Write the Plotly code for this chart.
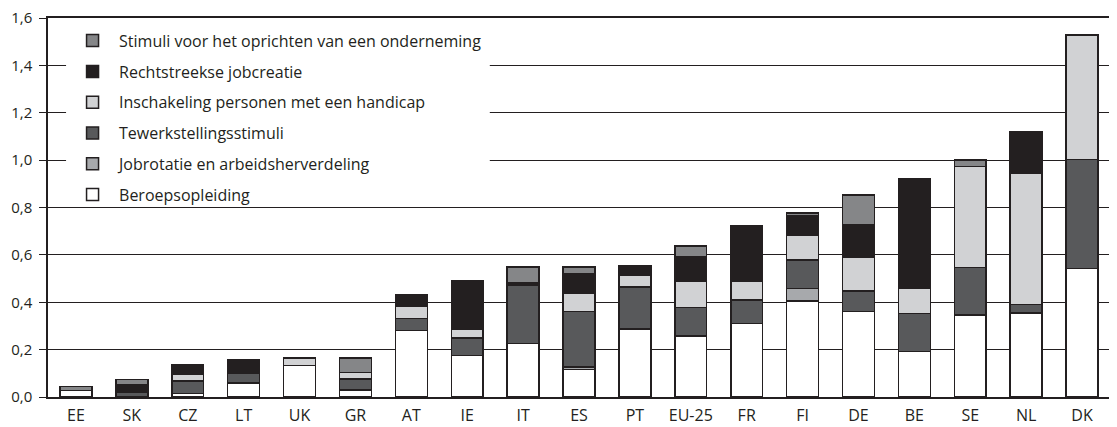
import plotly.graph_objects as go

landen = ["EE", "SK", "CZ", "LT", "UK", "GR", "AT", "IE", "IT", "ES",
          "PT", "EU-25", "FR", "FI", "DE", "BE", "SE", "NL", "DK"]

# uitgaven in % van het bbp, per categorie (van onder naar boven gestapeld)
beroepsopleiding = [0.028, None, 0.014, 0.059, 0.133, 0.030, 0.280, 0.175, 0.226, 0.116,
                    0.287, 0.257, 0.311, 0.406, 0.361, 0.192, 0.347, 0.354, 0.542]
jobrotatie = [None, None, None, None, None, None, None, None, None, 0.010,
              None, None, None, 0.052, None, None, None, None, None]
tewerkstelling = [None, 0.020, 0.053, 0.041, None, 0.047, 0.051, 0.075, 0.245, 0.235,
                  0.177, 0.120, 0.098, 0.120, 0.087, 0.161, 0.199, 0.036, 0.461]
handicap = [None, None, 0.027, None, 0.031, 0.027, 0.051, 0.037, None, 0.075,
            0.048, 0.112, 0.081, 0.104, 0.143, 0.105, 0.427, 0.554, 0.526]
jobcreatie = [None, 0.032, 0.035, 0.057, None, None, 0.049, 0.202, 0.013, 0.084,
              0.043, 0.105, 0.235, 0.084, 0.137, 0.462, None, 0.176, None]
startstimuli = [0.017, 0.022, 0.007, None, None, 0.060, None, None, 0.064, 0.028,
                None, 0.043, None, 0.011, 0.125, None, 0.027, None, None]

reeksen = [
    ("Beroepsopleiding", beroepsopleiding, "#ffffff"),
    ("Jobrotatie en arbeidsherverdeling", jobrotatie, "#a7a9ac"),
    ("Tewerkstellingsstimuli", tewerkstelling, "#58595b"),
    ("Inschakeling personen met een handicap", handicap, "#d1d2d4"),
    ("Rechtstreekse jobcreatie", jobcreatie, "#231f20"),
    ("Stimuli voor het oprichten van een onderneming", startstimuli, "#858688"),
]

fig = go.Figure()
for i, (naam, waarden, kleur) in enumerate(reeksen):
    fig.add_trace(go.Bar(
        x=landen,
        y=waarden,
        name=naam,
        legendgroup=naam,
        legendrank=len(reeksen) - i,
        marker=dict(color=kleur, line=dict(color="#231f20", width=1.5)),
    ))

# wit vlak achter de legende, zodat de rasterlijnen daar wegvallen
fig.add_shape(
    type="rect", xref="paper", yref="paper",
    x0=0.017, x1=0.416, y0=0.517, y1=0.99,
    fillcolor="white", line_width=0, layer="above",
)

# de pagina heeft 8px body-marge, daarom zijn de marges kleiner
fig.update_layout(
    barmode="stack",
    bargap=0.43,
    width=1117,
    height=427,
    margin=dict(l=40, r=15, t=10, b=38, autoexpand=False),
    paper_bgcolor="white",
    plot_bgcolor="white",
    separators=",.",
    font=dict(family="Open Sans", size=16, color="#231f20"),
    legend=dict(
        x=0.017, y=0.985, xanchor="left", yanchor="top",
        bgcolor="rgba(0,0,0,0)",
        traceorder="grouped",
        tracegroupgap=7,
        itemwidth=43,
        font=dict(size=16),
    ),
)
fig.update_yaxes(
    range=[0, 1.6],
    dtick=0.2,
    tickformat=".1f",
    ticklabeloverflow="allow",
    tickfont=dict(size=15),
    ticklabelstandoff=4,
    showgrid=True,
    gridcolor="#231f20",
    gridwidth=1,
    zeroline=False,
    showline=True,
    linecolor="#231f20",
    linewidth=1.5,
    mirror=True,
    ticks="outside",
    ticklen=7,
    tickcolor="#231f20",
)
fig.update_xaxes(
    showline=True,
    linecolor="#231f20",
    linewidth=2,
    mirror=True,
    ticks="",
    tickfont=dict(size=16),
    ticklabelstandoff=3,
)

fig.write_html("out.html")
